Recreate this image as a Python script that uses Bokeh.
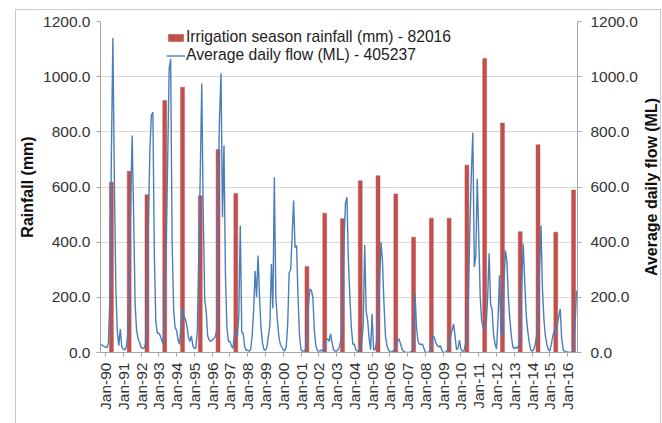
import math
from bokeh.plotting import figure
from bokeh.layouts import row
from bokeh.models import (Range1d, LinearAxis, FixedTicker, Legend, LegendItem,
                          ColumnDataSource, NumeralTickFormatter, Title)
from bokeh.embed import file_html
from bokeh.resources import INLINE

# ---------------- data ----------------
rain_years = [1990, 1991, 1992, 1993, 1994, 1995, 1996, 1997,
              2001, 2002, 2003, 2004, 2005, 2006, 2007, 2008,
              2009, 2010, 2011, 2012, 2013, 2014, 2015, 2016]
rain_mm = [617, 657, 572, 914, 962, 568, 736, 576,
           312, 505, 485, 623, 641, 575, 418, 487,
           487, 679, 1066, 832, 438, 753, 436, 589]

flow_first_year = 1989
flow_first_month = 10          # series starts Oct-1989, monthly
flow_ml = [
    30, 25, 22,                                                   # 1989 Oct-Dec
    20, 18, 35, 200, 720, 1140, 620, 230, 75, 25, 85, 20,         # 1990
    12, 10, 18, 60, 250, 540, 787, 500, 175, 80, 50, 37,          # 1991
    19, 15, 15, 30, 150, 480, 740, 860, 871, 350, 110, 70,        # 1992
    70, 60, 45, 30, 150, 380, 700, 1030, 1064, 400, 160, 90,      # 1993
    80, 45, 30, 100, 160, 130, 120, 95, 55, 40, 60, 25,           # 1994
    15, 15, 80, 350, 650, 975, 500, 190, 150, 60, 45, 40,         # 1995
    45, 50, 55, 80, 600, 850, 1012, 490, 750, 280, 90, 40,        # 1996
    40, 25, 15, 60, 68, 60, 130, 460, 74, 68, 20, 8,              # 1997
    8, 5, 10, 60, 150, 295, 200, 352, 200, 90, 35, 10,            # 1998
    8, 20, 60, 100, 321, 160, 635, 200, 120, 60, 30, 20,          # 1999
    10, 5, 20, 100, 290, 300, 420, 551, 380, 388, 200, 60,        # 2000
    10, 5, 5, 10, 40, 170, 230, 225, 200, 80, 25, 8,              # 2001
    5, 5, 10, 5, 20, 45, 50, 40, 68, 35, 10, 5,                   # 2002
    5, 10, 20, 50, 150, 400, 540, 563, 330, 200, 90, 30,          # 2003
    30, 10, 5, 5, 10, 40, 100, 390, 150, 116, 50, 10,             # 2004
    140, 10, 10, 40, 100, 250, 400, 330, 180, 60, 25, 10,         # 2005
    2, 2, 5, 10, 25, 40, 50, 35, 15, 5, 2, 0,                     # 2006
    0, 0, 2, 5, 30, 210, 90, 40, 30, 30, 30, 15,                  # 2007
    0, 0, 0, 5, 15, 62, 55, 35, 25, 20, 25, 10,                   # 2008
    0, 0, 2, 10, 30, 60, 80, 104, 60, 10, 15, 45,                 # 2009
    10, 5, 5, 30, 60, 200, 450, 650, 797, 310, 350, 630,          # 2010
    420, 200, 110, 90, 85, 100, 200, 360, 175, 155, 65, 30,       # 2011
    13, 120, 280, 74, 62, 250, 370, 330, 200, 120, 60, 20,        # 2012
    13, 20, 15, 25, 70, 250, 394, 260, 140, 80, 40, 10,           # 2013
    5, 10, 25, 60, 130, 300, 460, 230, 120, 60, 30, 10,           # 2014
    5, 30, 60, 80, 70, 100, 130, 158, 50, 10, 5, 2,               # 2015
    2, 0, 0, 2, 10, 100, 225,                                     # 2016 Jan-Jul
]

x_tick_years = list(range(1990, 2017))
x_tick_labels = ["Jan-90", "Jan-91", "Jan-92", "Jan-93", "Jan-94", "Jan-95",
                 "Jan-96", "Jan-97", "Jan-98", "Jan-99", "Jan-00", "Jan-01",
                 "Jan-02", "Jan-03", "Jan-04", "Jan-05", "Jan-06", "Jan-07",
                 "Jan-08", "Jan-09", "Jan-10", "Jan-11", "Jan-12", "Jan-13",
                 "Jan-14", "Jan-15", "Jan-16"]
y_ticks = [0, 200, 400, 600, 800, 1000, 1200]

bar_label = "Irrigation season rainfall (mm) - 82016"
line_label = "Average daily flow (ML) - 405237"
left_title = "Rainfall (mm)"
right_title = "Average daily flow (ML)"

# ---------------- styling ----------------
FONT = "Liberation Sans"
TXT = "#333333"
AXC = "#a6a6a6"
GRID = "#d9d9d9"
RED = "#c0504d"
BLUE = "#4a7ebb"
TICK_FS = "15.5px"
FRAME_BORDER = "1px solid #c8c8c8"

flow_t = [flow_first_year + (flow_first_month - 1 + i) / 12.0 for i in range(len(flow_ml))]
bar_t = [yr + 4 / 12.0 for yr in rain_years]   # bars drawn at the May slot of each year

bars = ColumnDataSource(dict(x=bar_t, top=rain_mm))
flow = ColumnDataSource(dict(x=flow_t, y=flow_ml))

p = figure(width=624, height=413, output_backend="svg", toolbar_location=None,
           x_range=Range1d(1989.72, 2016.555), y_range=Range1d(0, 1200),
           min_border_left=84, min_border_right=61, min_border_top=11,
           min_border_bottom=71)
p.outline_line_color = None
p.background_fill_color = "white"
p.border_fill_color = "white"
p.xgrid.visible = False
p.ygrid.grid_line_color = GRID
p.ygrid.ticker = FixedTicker(ticks=y_ticks)

p.extra_y_ranges = {"flow": Range1d(0, 1200)}

# left axis
ly = p.yaxis[0]
ly.ticker = FixedTicker(ticks=y_ticks)
ly.formatter = NumeralTickFormatter(format="0.0")

ry = LinearAxis(y_range_name="flow", ticker=FixedTicker(ticks=y_ticks),
                formatter=NumeralTickFormatter(format="0.0"))
p.add_layout(ry, "right")

for ax, standoff in ((ly, 6), (ry, 9)):
    ax.axis_line_color = AXC
    ax.major_tick_line_color = AXC
    ax.major_tick_in = 0
    ax.major_tick_out = 4
    ax.minor_tick_line_color = None
    ax.major_label_standoff = standoff
    ax.major_label_text_font = FONT
    ax.major_label_text_font_size = TICK_FS
    ax.major_label_text_color = TXT

ly.axis_label = left_title
ly.axis_label_standoff = 4
ly.axis_label_text_font = FONT
ly.axis_label_text_font_size = "16px"
ly.axis_label_text_font_style = "bold"
ly.axis_label_text_color = "#111111"

xa = p.xaxis[0]
xa.ticker = FixedTicker(ticks=x_tick_years)
xa.major_label_overrides = {yr: lab for yr, lab in zip(x_tick_years, x_tick_labels)}
xa.major_label_orientation = math.pi / 2
xa.axis_line_color = AXC
xa.major_tick_line_color = AXC
xa.major_tick_in = 0
xa.major_tick_out = 4
xa.minor_tick_line_color = None
xa.major_label_standoff = 6
xa.major_label_text_font = FONT
xa.major_label_text_font_size = TICK_FS
xa.major_label_text_color = TXT

# glyphs
r_bar = p.vbar(x="x", top="top", width=0.22, source=bars,
               fill_color=RED, line_color=RED, line_width=0.5)
r_line = p.line(x="x", y="y", source=flow, y_range_name="flow",
                line_color=BLUE, line_width=1.4)

legend = Legend(items=[LegendItem(label=bar_label, renderers=[r_bar]),
                       LegendItem(label=line_label, renderers=[r_line])],
                location=(66, 288), orientation="vertical",
                glyph_width=19, glyph_height=9, label_standoff=1, spacing=0,
                padding=0, margin=0, label_height=18,
                label_text_font=FONT, label_text_font_size="15.7px",
                label_text_color="#222222",
                background_fill_alpha=0, border_line_color=None)
p.add_layout(legend)

# narrow strip carrying the right-hand axis title (reads bottom-to-top)
p2 = figure(width=20, height=413, output_backend="svg", toolbar_location=None,
            x_range=Range1d(0, 1), y_range=Range1d(0, 1),
            min_border_left=0, min_border_right=0, min_border_top=11,
            min_border_bottom=71)
p2.axis.visible = False
p2.grid.visible = False
p2.outline_line_color = None
p2.background_fill_color = "white"
p2.border_fill_color = "white"
p2.add_layout(Title(text=right_title, align="center", standoff=0,
                    text_font=FONT, text_font_size="16px",
                    text_font_style="bold", text_color="#111111"), "left")

layout = row(p, p2, margin=(9, 0, 0, 15),
             styles={"border-left": FRAME_BORDER, "border-top": FRAME_BORDER,
                     "border-right": FRAME_BORDER})

open("out.html", "w").write(file_html(layout, INLINE))
